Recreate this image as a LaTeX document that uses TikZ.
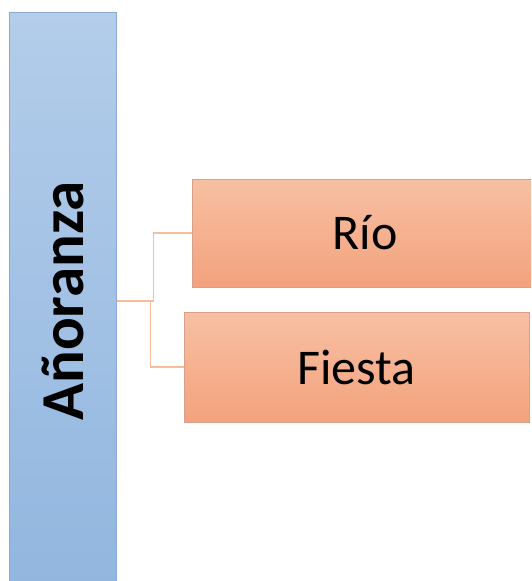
\documentclass[tikz,border=0pt]{standalone}
\usepackage{fontspec}
\setmainfont{Carlito}
\definecolor{blueTop}{HTML}{B3CDEA}
\definecolor{blueBot}{HTML}{92B6DF}
\definecolor{blueEdge}{HTML}{8AA8D0}
\definecolor{orTop}{HTML}{F7C0A3}
\definecolor{orBot}{HTML}{F3A27D}
\definecolor{orEdge}{HTML}{D6A08A}
\definecolor{linkCol}{HTML}{F7BE9A}
\tikzset{
  mainbox/.style={rectangle, draw=blueEdge, line width=1pt, top color=blueTop, bottom color=blueBot,
    minimum width=107pt, minimum height=578pt, inner sep=0pt},
  itembox/.style={rectangle, draw=orEdge, line width=1pt, top color=orTop, bottom color=orBot,
    minimum height=109pt, inner sep=0pt, font=\fontsize{50}{50}\selectfont, text=black},
  link/.style={draw=linkCol, line width=1.5pt},
}
\begin{document}
\begin{tikzpicture}[x=1pt, y=-1pt]
  \useasboundingbox (0,0) rectangle (531,581);
  \clip (0,0) rectangle (531,581);
  % left title bar
  \node[mainbox] (main) at (62.5,301) {};
  \node[rotate=90, font=\fontsize{61}{61}\selectfont\bfseries, text=black] (mainlabel) at (main.center) {Añoranza};
  % items
  \node[itembox, minimum width=346pt, minimum height=108pt] (rio) at (365,233) {Río};
  \node[itembox, minimum width=345pt, minimum height=110pt] (fiesta) at (356.5,367) {Fiesta};
  % connectors
  \draw[link] (main.east) -- ++(37,0) |- (rio.west);
  \draw[link] (main.east) -- ++(34,0) |- (fiesta.west);
\end{tikzpicture}
\end{document}
